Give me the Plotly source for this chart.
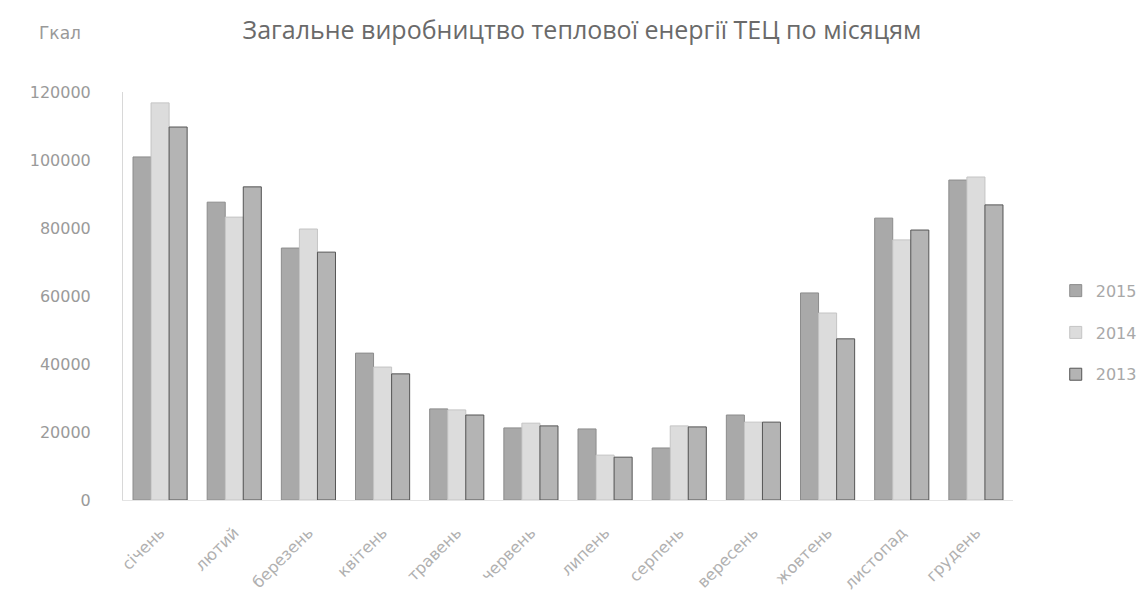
import plotly.graph_objects as go

months = ["січень", "лютий", "березень", "квітень", "травень", "червень",
          "липень", "серпень", "вересень", "жовтень", "листопад", "грудень"]
y2015 = [100900, 87600, 74100, 43200, 26800, 21200, 20900, 15300, 25000, 60900, 82900, 94100]
y2014 = [116800, 83200, 79700, 39100, 26500, 22600, 13200, 21800, 22900, 55000, 76500, 95000]
y2013 = [109700, 92100, 72900, 37100, 25000, 21800, 12600, 21500, 22900, 47400, 79400, 86800]
series_names = ["2015", "2014", "2013"]

fill_colors = ["#a9a9a9", "#dcdcdc", "#b4b4b4"]
edge_colors = ["#8c8c8c", "#c4c4c4", "#555555"]

fig = go.Figure()
for i, (name, vals) in enumerate(zip(series_names, [y2015, y2014, y2013])):
    fig.add_trace(go.Bar(
        x=months, y=vals, name=name, legendgroup=name,
        marker=dict(color=fill_colors[i], line=dict(color=edge_colors[i], width=1)),
    ))

fig.update_layout(
    width=1148, height=598,
    paper_bgcolor="white", plot_bgcolor="white",
    margin=dict(l=115, r=143, t=84, b=106),
    barmode="group", bargap=0.27, bargroupgap=0.0,
    font=dict(family="DejaVu Sans", color="#999999"),
    title=dict(text="Загальне виробництво теплової енергії ТЕЦ по місяцям",
               x=0.5, xanchor="center", y=0.963, yanchor="middle",
               font=dict(family="Open Sans", size=25, color="#6a6a6a")),
    legend=dict(x=1.048, y=0.41, xanchor="left", yanchor="middle",
                font=dict(size=16, color="#a8a8a8"), tracegroupgap=18,
                bgcolor="rgba(0,0,0,0)"),
    annotations=[dict(text="Гкал", x=-0.0708, y=1.145, xref="paper", yref="paper",
                      xanchor="center", yanchor="middle", showarrow=False,
                      font=dict(size=17, color="#999999"))],
)

fig.update_yaxes(range=[0, 120000], dtick=20000, tickformat="d",
                 showgrid=False, zeroline=False,
                 showline=True, linecolor="#d8d8d8", linewidth=1,
                 tickfont=dict(size=16, color="#9a9a9a"), ticks="",
                 ticklabelstandoff=28)
fig.update_xaxes(showgrid=False, showline=True, linecolor="#e4e4e4",
                 tickangle=-45, tickfont=dict(size=16, color="#b0b0b0"),
                 ticklabelstandoff=16)

fig.write_html("out.html")
